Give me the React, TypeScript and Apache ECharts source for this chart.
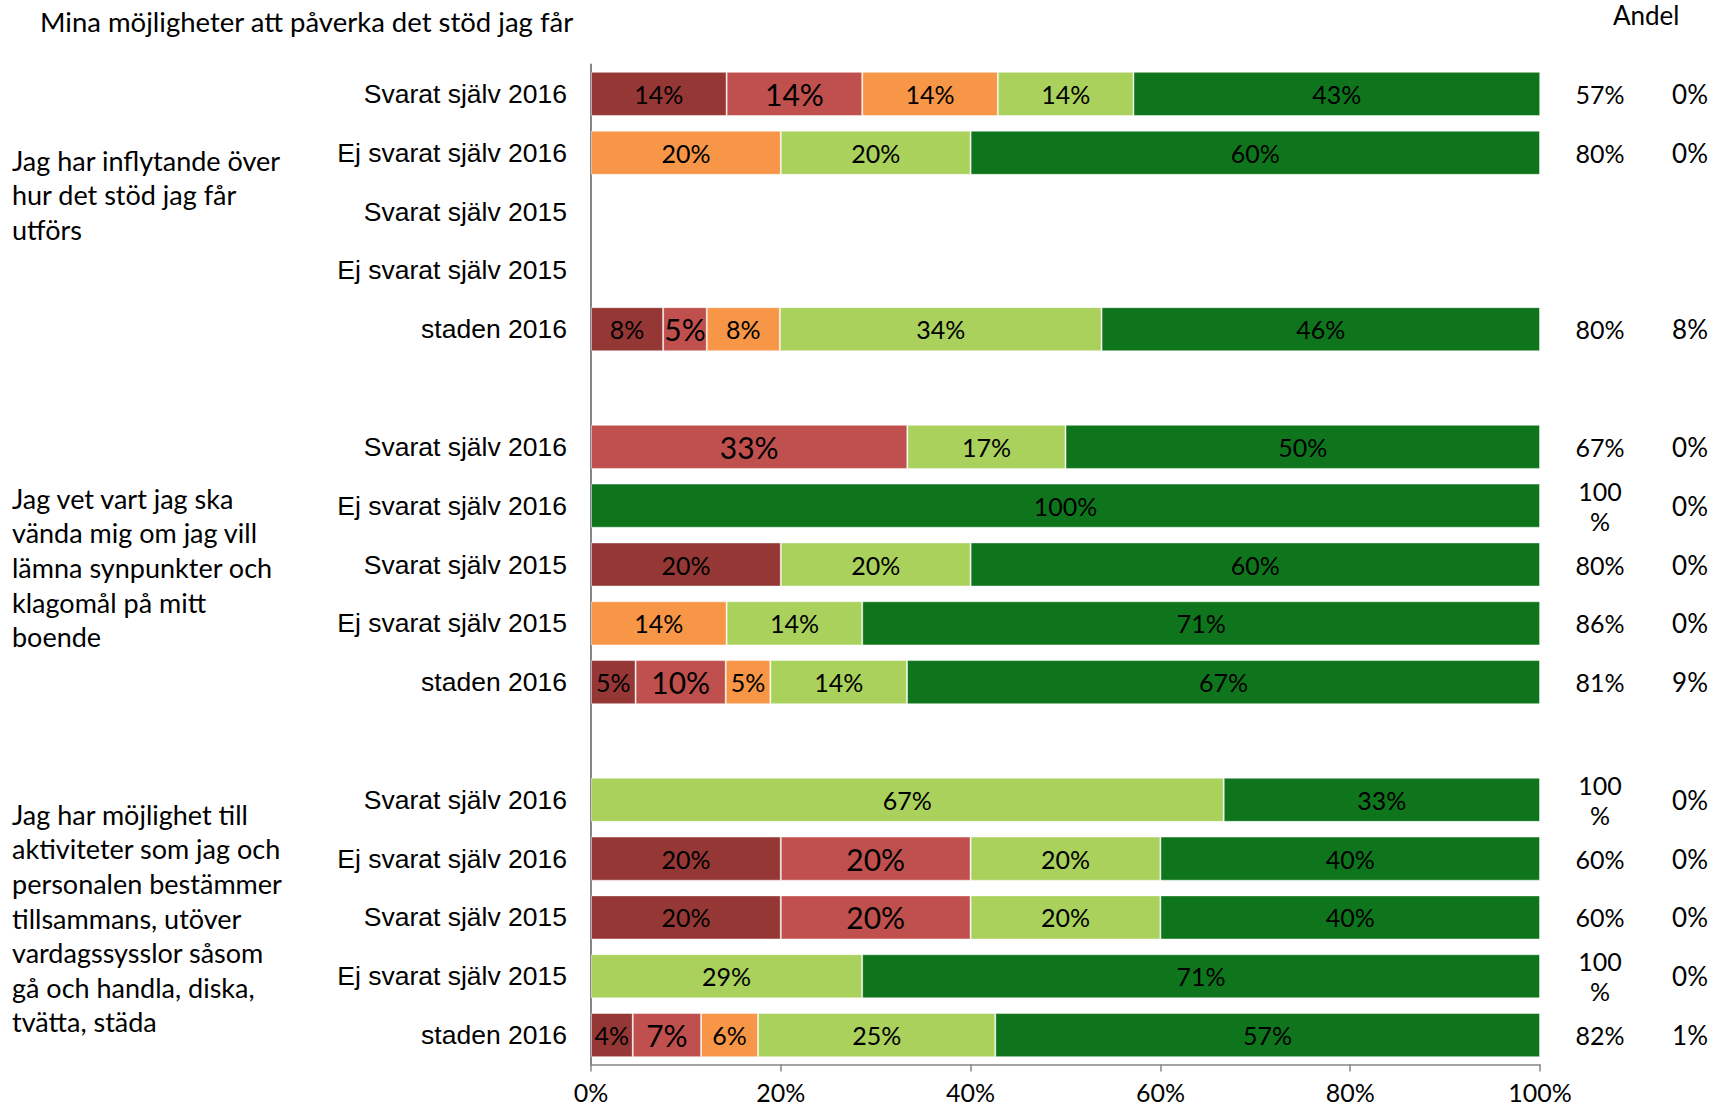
import React, { useEffect, useRef } from "react";
import * as echarts from "echarts";

const categories = [
  "Svarat själv 2016", "Ej svarat själv 2016", "Svarat själv 2015", "Ej svarat själv 2015", "staden 2016", "",
  "Svarat själv 2016", "Ej svarat själv 2016", "Svarat själv 2015", "Ej svarat själv 2015", "staden 2016", "",
  "Svarat själv 2016", "Ej svarat själv 2016", "Svarat själv 2015", "Ej svarat själv 2015", "staden 2016",
];

const darkRed = [14.29, null, null, null, 7.6, null, null, null, 20, null, 4.7, null, null, 20, 20, null, 4.4];
const red = [14.29, null, null, null, 4.6, null, 33.33, null, null, null, 9.5, null, null, 20, 20, null, 7.2];
const orange = [14.29, 20, null, null, 7.7, null, null, null, null, 14.29, 4.7, null, null, null, null, null, 6.0];
const lightGreen = [14.29, 20, null, null, 33.9, null, 16.67, null, 20, 14.29, 14.4, null, 66.67, 20, 20, 28.57, 25.0];
const darkGreen = [42.86, 60, null, null, 46.2, null, 50, 100, 60, 71.43, 66.7, null, 33.33, 40, 40, 71.43, 57.4];

const andelA = ["57%", "80%", "", "", "80%", "", "67%", "100%", "80%", "86%", "81%", "", "100%", "60%", "60%", "100%", "82%"];
const andelB = ["0%", "0%", "", "", "8%", "", "0%", "0%", "0%", "0%", "9%", "", "0%", "0%", "0%", "0%", "1%"];

const xTicks = [0, 20, 40, 60, 80, 100];

const title = "Mina möjligheter att påverka det stöd jag får";
const columnTitle = "Andel";
const question1 = ["Jag har inflytande över", "hur det stöd jag får", "utförs"];
const question2 = ["Jag vet vart jag ska", "vända mig om jag vill", "lämna synpunkter och", "klagomål på mitt", "boende"];
const question3 = [
  "Jag har möjlighet till", "aktiviteter som jag och", "personalen bestämmer",
  "tillsammans, utöver", "vardagssysslor såsom", "gå och handla, diska,", "tvätta, städa",
];

const COLORS = ["#953735", "#C0504D", "#F79646", "#A9D15B", "#0F751C"];
const CAL = "Lato, 'Open Sans', sans-serif";
const ARIAL = "'Liberation Sans', Arial, sans-serif";

export default function App() {
  const ref = useRef<HTMLDivElement>(null);
  useEffect(() => {
    document.body.style.margin = "0";
    if (!ref.current) return;
    const chart = echarts.init(ref.current, undefined, { renderer: "svg" });
    const seriesData = [darkRed, red, orange, lightGreen, darkGreen];
    const names = ["Mycket dåligt", "Ganska dåligt", "Varken eller", "Ganska bra", "Mycket bra"];
    const series = seriesData.map((d, i) => ({
      name: names[i],
      type: "bar",
      stack: "total",
      data: d,
      barCategoryGap: "25%",
      itemStyle: { color: COLORS[i], borderColor: "rgba(255,255,255,0.45)", borderWidth: 1 },
      label: {
        show: true,
        position: "inside",
        color: "#000",
        fontFamily: CAL,
        fontSize: i === 1 ? 30 : 25,
        formatter: (p: any) => (p.value ? Math.round(p.value) + "%" : ""),
      },
    }));
    const qText = (lines: string[], top: number) => ({
      type: "text",
      left: 12,
      top,
      style: { text: lines.join("\n"), font: `27px ${CAL}`, lineHeight: 34.6, fill: "#000" },
    });
    // "100%" does not fit the narrow column and wraps onto two lines
    const isWrapped = (v: string) => v.length > 3;
    const andelSingle = andelA.map((v) => (isWrapped(v) ? "" : v));
    const andelWrapped = andelA.map((v) => (isWrapped(v) ? v : ""));
    const rightAxis = (data: string[], margin: number, extra: any) => ({
      type: "category",
      inverse: true,
      position: "right",
      data,
      axisLine: { show: false },
      axisTick: { show: false },
      axisLabel: {
        interval: 0,
        color: "#000",
        fontFamily: CAL,
        fontSize: 25,
        align: "center",
        margin,
        ...extra,
      },
    });
    chart.setOption({
      animation: false,
      grid: { left: 591, right: 173, top: 64.5, bottom: 44.5, containLabel: false },
      xAxis: {
        type: "value",
        min: 0,
        max: 100,
        interval: 20,
        data: xTicks,
        axisLine: { show: true, lineStyle: { color: "#868686", width: 1.5 } },
        axisTick: { show: true, length: 7, lineStyle: { color: "#868686", width: 1.5 } },
        splitLine: { show: false },
        axisLabel: { formatter: "{value}%", color: "#000", fontFamily: CAL, fontSize: 25, margin: 15 },
      },
      yAxis: [
        {
          type: "category",
          inverse: true,
          data: categories,
          axisLine: { show: true, lineStyle: { color: "#868686", width: 2 } },
          axisTick: { show: false },
          axisLabel: { interval: 0, color: "#000", fontFamily: ARIAL, fontSize: 26.5, margin: 24 },
        },
        rightAxis(andelSingle, 60, { padding: [6, 0, 0, 0] }),
        rightAxis(andelWrapped, 60, {
          lineHeight: 30,
          padding: [24, 0, 0, 0],
          formatter: (v: string) => (v ? v.slice(0, 3) + "\n" + v.slice(3) : ""),
        }),
        rightAxis(andelB, 150, { fontSize: 26 }),
      ],
      series,
      graphic: [
        { type: "text", left: 40, top: 7, style: { text: title, font: `27.5px ${CAL}`, fill: "#000" } },
        { type: "text", left: 1613, top: 2, style: { text: columnTitle, font: `26px ${CAL}`, fill: "#000" } },
        qText(question1, 143),
        qText(question2, 481),
        qText(question3, 797),
      ],
    });
    return () => chart.dispose();
  }, []);
  return <div ref={ref} style={{ width: 1713, height: 1109 }} />;
}
